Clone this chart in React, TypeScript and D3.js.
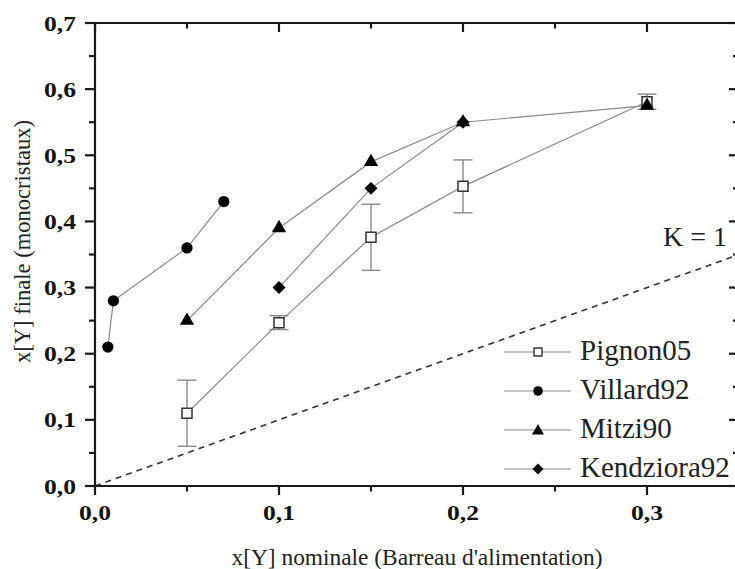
import React from "react";
import * as d3 from "d3";

const pignonX = [0.05, 0.1, 0.15, 0.2, 0.3];
const pignonY = [0.11, 0.247, 0.376, 0.453, 0.581];
const pignonErr = [0.05, 0.0105, 0.05, 0.04, 0.0115];

const villardX = [0.007, 0.01, 0.05, 0.07];
const villardY = [0.21, 0.28, 0.36, 0.43];

const mitziX = [0.05, 0.1, 0.15, 0.2, 0.3];
const mitziY = [0.25, 0.39, 0.49, 0.55, 0.575];

const kendzioraX = [0.1, 0.15, 0.2];
const kendzioraY = [0.3, 0.45, 0.55];

const kLineX = [0, 0.35];

const xTicks = [0, 0.1, 0.2, 0.3];
const xTickLabels = ["0,0", "0,1", "0,2", "0,3"];
const yTicks = [0, 0.1, 0.2, 0.3, 0.4, 0.5, 0.6, 0.7];
const yTickLabels = ["0,0", "0,1", "0,2", "0,3", "0,4", "0,5", "0,6", "0,7"];

const legendNames = ["Pignon05", "Villard92", "Mitzi90", "Kendziora92"];

const W = 735;
const H = 569;
const FONT = "Liberation Serif";

export default function App() {
  const x = d3.scaleLinear().domain([0, 0.35]).range([95, 739]);
  const y = d3.scaleLinear().domain([0, 0.7]).range([486, 23]);
  const line = d3
    .line<[number, number]>()
    .x((d) => x(d[0]))
    .y((d) => y(d[1]));
  const zip = (xs: number[], ys: number[]) =>
    xs.map((v, i) => [v, ys[i]] as [number, number]);

  const circle = (s: number) => d3.symbol(d3.symbolCircle, s)()!;
  const tri = (s: number) => d3.symbol(d3.symbolTriangle, s)()!;
  const sq = (s: number) => d3.symbol(d3.symbolSquare, s)()!;

  const minorX = d3.range(0, 0.3501, 0.05);
  const minorY = d3.range(0, 0.7001, 0.05);
  const isMajor = (v: number) => Math.abs(v * 10 - Math.round(v * 10)) < 1e-6;

  const axisColor = "#1a1a1a";
  const lineColor = "#8a8a8a";

  const legendRowsY = [352, 391, 430, 469];

  const legendMarker = (i: number, cx: number, cy: number) => {
    if (i === 0)
      return (
        <path d={sq(64)} transform={`translate(${cx},${cy})`} fill="#fff" stroke="#333" strokeWidth={1.4} />
      );
    if (i === 1) return <path d={circle(72)} transform={`translate(${cx},${cy})`} fill="#000" />;
    if (i === 2) return <path d={tri(62)} transform={`translate(${cx},${cy + 1})`} fill="#000" />;
    return <path d={sq(60)} transform={`translate(${cx},${cy}) rotate(45)`} fill="#000" />;
  };

  const textStyle = { fontFamily: FONT } as React.CSSProperties;

  return (
    <svg width={W} height={H} style={{ position: "absolute", left: 0, top: 0, background: "#fff" }}>
      <rect x={0} y={0} width={W} height={H} fill="#fff" />

      {/* K = 1 dashed line */}
      <path
        d={line(zip(kLineX, kLineX))!}
        fill="none"
        stroke="#333"
        strokeWidth={1.6}
        strokeDasharray="6,5"
      />

      {/* series lines */}
      <path d={line(zip(villardX, villardY))!} fill="none" stroke={lineColor} strokeWidth={1.2} />
      <path d={line(zip(mitziX, mitziY))!} fill="none" stroke={lineColor} strokeWidth={1.2} />
      <path d={line(zip(kendzioraX, kendzioraY))!} fill="none" stroke={lineColor} strokeWidth={1.2} />
      <path d={line(zip(pignonX, pignonY))!} fill="none" stroke={lineColor} strokeWidth={1.2} />

      {/* error bars */}
      {pignonX.map((v, i) => (
        <g key={"e" + i} stroke={lineColor} strokeWidth={1.4}>
          <line x1={x(v)} x2={x(v)} y1={y(pignonY[i] - pignonErr[i])} y2={y(pignonY[i] + pignonErr[i])} />
          <line x1={x(v) - 9.5} x2={x(v) + 9.5} y1={y(pignonY[i] + pignonErr[i])} y2={y(pignonY[i] + pignonErr[i])} />
          <line x1={x(v) - 9.5} x2={x(v) + 9.5} y1={y(pignonY[i] - pignonErr[i])} y2={y(pignonY[i] - pignonErr[i])} />
        </g>
      ))}

      {/* markers */}
      {pignonX.map((v, i) => (
        <path
          key={"p" + i}
          d={sq(100)}
          transform={`translate(${x(v)},${y(pignonY[i])})`}
          fill="#fff"
          stroke="#333"
          strokeWidth={1.5}
        />
      ))}
      {villardX.map((v, i) => (
        <path key={"v" + i} d={circle(100)} transform={`translate(${x(v)},${y(villardY[i])})`} fill="#000" />
      ))}
      {kendzioraX.map((v, i) => (
        <path key={"k" + i} d={sq(84)} transform={`translate(${x(v)},${y(kendzioraY[i])}) rotate(45)`} fill="#000" />
      ))}
      {mitziX.map((v, i) => (
        <path key={"m" + i} d={tri(88)} transform={`translate(${x(v)},${y(mitziY[i])})`} fill="#000" />
      ))}

      {/* axes frame */}
      <g stroke={axisColor} strokeWidth={2.2} fill="none">
        <line x1={95} x2={739} y1={486} y2={486} />
        <line x1={95} x2={739} y1={23} y2={23} />
        <line x1={95} x2={95} y1={23} y2={486} />
        <line x1={739} x2={739} y1={23} y2={486} />
        {minorX.map((v, i) => {
          const L = isMajor(v) ? 9 : 5.5;
          return (
            <g key={"tx" + i}>
              <line x1={x(v)} x2={x(v)} y1={486} y2={486 + L} />
              <line x1={x(v)} x2={x(v)} y1={23} y2={23 + L} />
            </g>
          );
        })}
        {minorY.map((v, i) => {
          const L = isMajor(v) ? 10 : 6;
          return (
            <g key={"ty" + i}>
              <line x1={95} x2={95 - L} y1={y(v)} y2={y(v)} />
              <line x1={739} x2={739 - L} y1={y(v)} y2={y(v)} />
            </g>
          );
        })}
      </g>

      {/* tick labels */}
      <g fontWeight="bold" fontSize={22} fill="#111">
        {yTicks.map((v, i) => (
          <text
            key={"yl" + i}
            x={76}
            y={y(v) + 7.5}
            textAnchor="end"
            textLength={32}
            lengthAdjust="spacingAndGlyphs"
            style={textStyle}
          >
            {yTickLabels[i]}
          </text>
        ))}
        {xTicks.map((v, i) => (
          <text
            key={"xl" + i}
            x={x(v)}
            y={520}
            textAnchor="middle"
            textLength={32}
            lengthAdjust="spacingAndGlyphs"
            style={textStyle}
          >
            {xTickLabels[i]}
          </text>
        ))}
      </g>

      {/* axis titles */}
      <text
        x={417}
        y={565}
        textAnchor="middle"
        style={textStyle}
        fontSize={23}
        fill="#222"
        textLength={371}
        lengthAdjust="spacingAndGlyphs"
      >
        x[Y] nominale (Barreau d'alimentation)
      </text>
      <text
        transform="translate(30,241.5) rotate(-90)"
        textAnchor="middle"
        style={textStyle}
        fontSize={23}
        fill="#222"
        textLength={243}
        lengthAdjust="spacingAndGlyphs"
      >
        x[Y] finale (monocristaux)
      </text>

      {/* K = 1 label */}
      <text x={663} y={246} style={textStyle} fontSize={28} fill="#222" textLength={64} lengthAdjust="spacingAndGlyphs">
        K = 1
      </text>

      {/* legend */}
      {legendNames.map((name, i) => (
        <g key={"lg" + i}>
          <line x1={504} x2={571} y1={legendRowsY[i]} y2={legendRowsY[i]} stroke={lineColor} strokeWidth={1.2} />
          {legendMarker(i, 538, legendRowsY[i])}
          <text x={580} y={legendRowsY[i] + 8} style={textStyle} fontSize={29} fill="#222">
            {name}
          </text>
        </g>
      ))}
    </svg>
  );
}
